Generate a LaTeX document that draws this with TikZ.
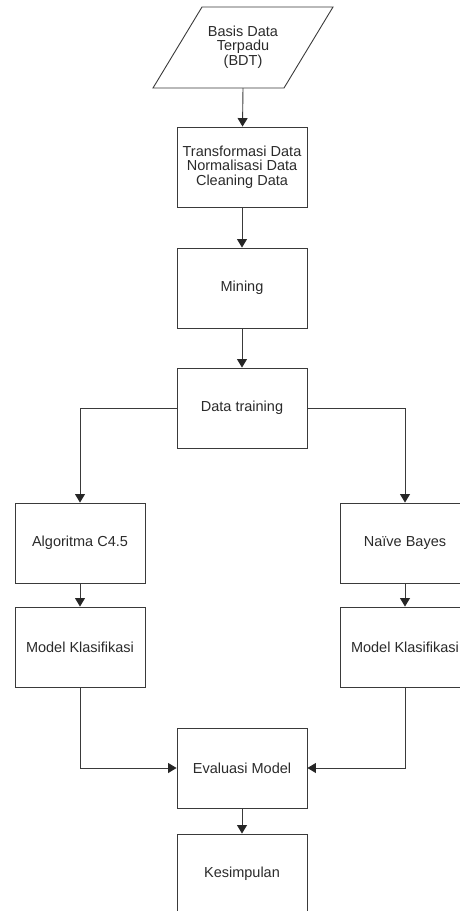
\documentclass[tikz,border=0pt]{standalone}
\usepackage{fontspec}
\setmainfont{Liberation Sans}
\usetikzlibrary{arrows.meta}
\definecolor{inkline}{HTML}{3A3A3A}
\definecolor{inktext}{HTML}{2A2A2A}
\tikzset{
  procbox/.style={draw=inkline, line width=0.9pt, rectangle, minimum width=130pt,
    minimum height=80pt, inner sep=0pt, align=center, text=inktext,
    font=\fontsize{14.5}{14.5}\selectfont},
  plain/.style={inner sep=0pt, align=center, text=inktext,
    font=\fontsize{14.5}{14.5}\selectfont},
  flow/.style={draw=inkline, line width=0.9pt,
    -{Triangle[length=8.5pt,width=10pt,fill=black!85,color=black!85]}},
}
\begin{document}
\begin{tikzpicture}[x=1pt, y=-1pt]
  \useasboundingbox (0,0) rectangle (460,911);

  % input parallelogram
  \draw[inkline, line width=0.9pt] (153,88) -- (202,7) -- (333,7) -- (284,88) -- cycle;
  \node[plain] (bdt) at (243,47) {Basis Data\\Terpadu\\(BDT)};
  \coordinate (bdtbot) at (243,88);

  % main column
  \node[procbox] (trans) at (242,167) {Transformasi Data\\Normalisasi Data\\Cleaning Data};
  \node[procbox] (mine)  at (242,288) {Mining};
  \node[procbox] (train) at (242,408) {Data training};

  % left branch
  \node[procbox] (c45)   at (80,543) {Algoritma C4.5};
  \node[procbox] (modl)  at (80,647) {Model Klasifikasi};

  % right branch
  \node[procbox] (nb)    at (405,543) {Naïve Bayes};
  \node[procbox] (modr)  at (405,647) {Model Klasifikasi};

  % evaluation and conclusion
  \node[procbox] (eval)  at (242,768) {Evaluasi Model};
  \node[procbox] (kes)   at (242,874) {Kesimpulan};

  % connectors
  \draw[flow] (bdtbot) -- (trans);
  \draw[flow] (trans) -- (mine);
  \draw[flow] (mine) -- (train);
  \draw[flow] (train.west) -| (c45.north);
  \draw[flow] (train.east) -| (nb.north);
  \draw[flow] (c45) -- (modl);
  \draw[flow] (nb) -- (modr);
  \draw[flow] (modl.south) |- (eval.west);
  \draw[flow] (modr.south) |- (eval.east);
  \draw[flow] (eval) -- (kes);
\end{tikzpicture}
\end{document}
